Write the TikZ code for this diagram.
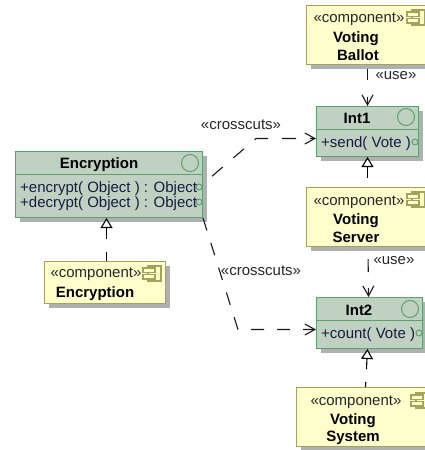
\documentclass[tikz,border=0pt]{standalone}
\usepackage{fontspec}
\setmainfont{Liberation Sans}
\usetikzlibrary{arrows.meta,shadows}
\definecolor{classfill}{HTML}{BFD2C2}
\definecolor{classline}{HTML}{5F9F6F}
\definecolor{compfill}{HTML}{FFFFCC}
\definecolor{compline}{HTML}{A3A35C}
\definecolor{shadowgray}{HTML}{B0B0B0}
\definecolor{optext}{HTML}{1A1A40}
\tikzset{
  classbox/.style={draw=classline,fill=classfill,line width=1pt,inner sep=0pt,anchor=north west,general shadow={fill=shadowgray,shadow xshift=4pt,shadow yshift=-4pt}},
  compbox/.style={draw=compline,fill=compfill,line width=1pt,inner sep=0pt,anchor=north west,general shadow={fill=shadowgray,shadow xshift=4pt,shadow yshift=-4pt}},
  classball/.style={draw=classline,line width=1pt},
  title/.style={font=\fontsize{15}{17}\selectfont\bfseries,inner sep=0pt,yshift=-1.5pt},
  stereo/.style={font=\fontsize{15}{17}\selectfont,inner sep=0pt,yshift=-1.5pt,text=black!85},
  oper/.style={font=\fontsize{15}{17}\selectfont,inner sep=0pt,anchor=west,yshift=-1.5pt,text=optext},
  realizeline/.style={black,line width=1.1pt,-{Triangle[open,fill=white,length=10pt,width=12pt]}},
  useline/.style={black!90,line width=1.1pt,-{Straight Barb[length=10pt,width=11pt]}},
}
\newcommand{\compicon}[2]{%
  \draw[compline,line width=1.2pt] (#1+5,#2) rectangle (#1+18,#2+15);
  \draw[compline,line width=1.2pt,fill=compfill] (#1,#2+2) rectangle (#1+12,#2+6.5);
  \draw[compline,line width=1.2pt,fill=compfill] (#1,#2+8.5) rectangle (#1+12,#2+13);
}
\begin{document}
\begin{tikzpicture}[x=1pt,y=-1pt]
  \clip (0,0) rectangle (425,450);
  %Class boxes
  \node[classbox,minimum width=187pt,minimum height=66pt] (encbox) at (15,151) {};
  \node[classbox,minimum width=102pt,minimum height=50pt] (intonebox) at (316,106) {};
  \node[classbox,minimum width=106pt,minimum height=51pt] (inttwobox) at (316,297) {};
  %Component boxes
  \node[compbox,minimum width=121pt,minimum height=42pt] (enccomp) at (44,261) {};
  \node[compbox,minimum width=125pt,minimum height=59pt] (ballotcomp) at (306,5) {};
  \node[compbox,minimum width=125pt,minimum height=59pt] (servercomp) at (306,187) {};
  \node[compbox,minimum width=135pt,minimum height=59pt] (systemcomp) at (296,387) {};
  %Header lines
  \draw[classline,line width=1pt] (15,174) -- (202,174);
  \draw[classline,line width=1pt] (316,129) -- (418,129);
  \draw[classline,line width=1pt] (316,320) -- (422,320);
  %Interface circles
  \draw[classball] (190,163) circle (8.5);
  \draw[classball] (406,117) circle (8.5);
  \draw[classball] (410,309) circle (8.5);
  \draw[classball] (199,187) circle (3);
  \draw[classball] (199,202) circle (3);
  \draw[classball] (415,142) circle (3);
  \draw[classball] (419,333) circle (3);
  %Component icons
  \compicon{143}{266}
  \compicon{407}{10}
  \compicon{407}{192}
  \compicon{411}{393}
  %Texts of the class boxes
  \node[title] (enctitle) at (99,163) {Encryption};
  \node[oper] (encop) at (20,187) {+encrypt( Object ) : Object};
  \node[oper] (decop) at (20,202) {+decrypt( Object ) : Object};
  \node[title] (intonetitle) at (357,117) {Int1};
  \node[oper] (sendop) at (321,142) {+send( Vote )};
  \node[title] (inttwotitle) at (359,309) {Int2};
  \node[oper] (countop) at (321,333) {+count( Vote )};
  %Texts of the component boxes
  \node[stereo] (encstereo) at (96,273) {«component»};
  \node[title] (encname) at (95,292) {Encryption};
  \node[stereo] (ballotstereo) at (359,18) {«component»};
  \node[title] (ballotnameone) at (356,37) {Voting};
  \node[title] (ballotnametwo) at (358,54) {Ballot};
  \node[stereo] (serverstereo) at (359,201) {«component»};
  \node[title] (servernameone) at (356,219) {Voting};
  \node[title] (servernametwo) at (356,236) {Server};
  \node[stereo] (systemstereo) at (356,401) {«component»};
  \node[title] (systemnameone) at (353,419) {Voting};
  \node[title] (systemnametwo) at (353,436) {System};
  %Realization
  \draw[realizeline,dash pattern=on 9pt off 13pt on 40pt] ([xshift=1.5pt]enccomp.north) -- ([xshift=-2.5pt]encbox.south);
  \draw[realizeline,dash pattern=on 0pt off 9pt on 40pt] ([xshift=-1.5pt]servercomp.north) -- ([xshift=0pt]intonebox.south);
  \draw[realizeline,dash pattern=on 5pt off 13pt on 40pt] ([xshift=1.5pt]systemcomp.north) -- ([xshift=-2pt]inttwobox.south);
  %Use
  \draw[useline,dash pattern=on 0pt off 4pt on 11pt off 17pt on 20pt] ([xshift=-1.5pt]ballotcomp.south) -- ([xshift=0pt]intonebox.north);
  \draw[useline,dash pattern=on 0pt off 12pt on 13pt off 16pt on 20pt] ([xshift=-1pt]servercomp.south) -- ([xshift=-1pt]inttwobox.north);
  \node[stereo] (useone) at (396,74) {«use»};
  \node[stereo] (usetwo) at (394,259) {«use»};
  %Crosscuts
  \coordinate (bendone) at (256,138.5);
  \coordinate (bendtwo) at (238,329.5);
  \draw[useline,dash pattern=on 14pt off 14pt,dash phase=16pt] (encbox.east |- 0,184) -- (bendone) -- (intonebox.west |- 0,138.5);
  \draw[useline,dash pattern=on 13pt off 13pt] (encbox.south east) -- (bendtwo) -- (inttwobox.west |- 0,329.5);
  \node[stereo] (crossone) at (241,123) {«crosscuts»};
  \node[stereo] (crosstwo) at (261,269) {«crosscuts»};
\end{tikzpicture}
\end{document}
